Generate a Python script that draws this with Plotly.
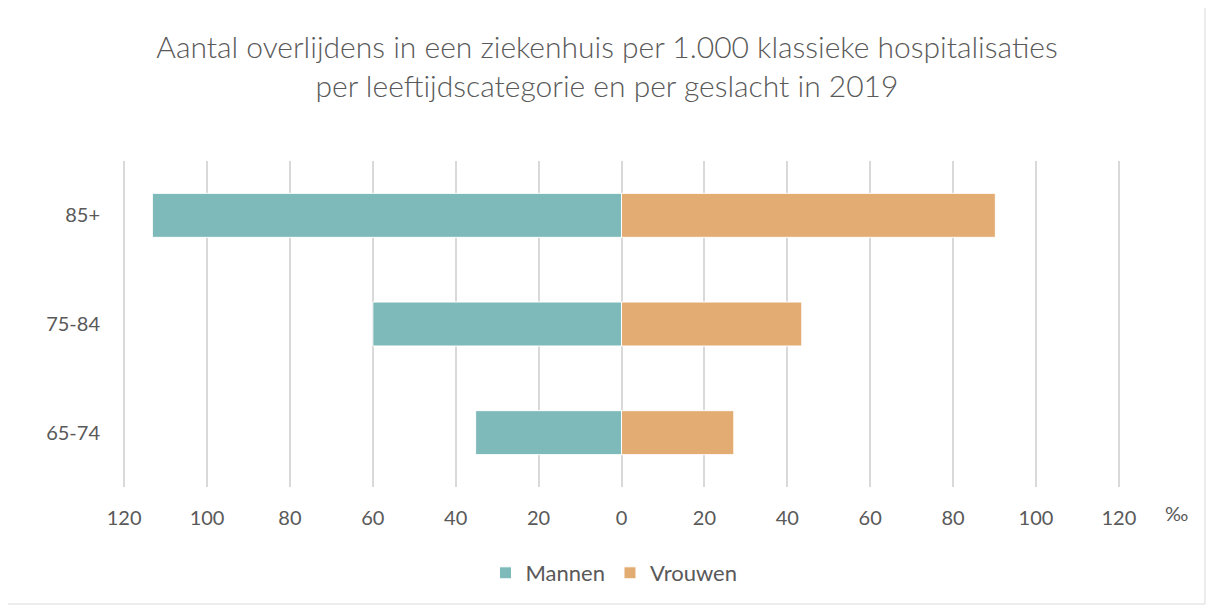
import plotly.graph_objects as go

categories = ["65-74", "75-84", "85+"]
mannen = [35.2, 60.0, 113.2]
vrouwen = [27.1, 43.5, 90.2]
tick_values = [-120, -100, -80, -60, -40, -20, 0, 20, 40, 60, 80, 100, 120]
tick_labels = [str(abs(v)) for v in tick_values]

W, H = 1214, 608
OFF = 8  # page body margin offset
ml, mt = 112, 153
pw, ph = 1003, 326
mr = W - ml - pw
mb = H - mt - ph
FONT = "Lato"
GREY = "#595959"

def px(x):
    return (x - OFF - ml) / pw
def py(y):
    return (H - mb - (y - OFF)) / ph

fig = go.Figure()
fig.add_trace(go.Bar(y=categories, x=[-v for v in mannen], orientation="h", name="Mannen",
                     marker=dict(color="#7FBABA", line=dict(color="white", width=1))))
fig.add_trace(go.Bar(y=categories, x=vrouwen, orientation="h", name="Vrouwen",
                     marker=dict(color="#E3AC73", line=dict(color="white", width=1))))

fig.update_layout(
    width=W, height=H,
    margin=dict(l=ml, r=mr, t=mt, b=mb),
    paper_bgcolor="white", plot_bgcolor="white",
    barmode="relative", bargap=0.595,
    font=dict(family=FONT, color=GREY, size=20),
    title=dict(text="Aantal overlijdens in een ziekenhuis per 1.000 klassieke hospitalisaties<br>per leeftijdscategorie en per geslacht in 2019",
               x=px(607), xref="paper", xanchor="center",
               y=1 - (58 - OFF) / H, yanchor="middle",
               font=dict(family=FONT, size=30, color=GREY, weight=300)),
    xaxis=dict(range=[-121, 121], tickvals=tick_values, ticktext=tick_labels,
               showgrid=True, gridcolor="#D9D9D9", gridwidth=1.5,
               zeroline=True, zerolinecolor="#D9D9D9", zerolinewidth=1.5,
               showline=False, ticks="", ticklabelstandoff=17,
               tickfont=dict(size=20, color=GREY), fixedrange=True),
    yaxis=dict(categoryorder="array", categoryarray=categories, showgrid=False,
               zeroline=False, showline=False, ticks="", ticklabelstandoff=19,
               tickfont=dict(size=20, color=GREY)),
    legend=dict(orientation="h", x=px(614), xanchor="center", y=py(573), yanchor="middle",
                font=dict(size=22, color=GREY), traceorder="normal"),
    showlegend=True,
)

fig.add_annotation(text="‰", x=px(1176), y=py(513), xref="paper", yref="paper",
                   showarrow=False, font=dict(size=20, color=GREY), xanchor="center", yanchor="middle")

fig.add_shape(type="rect", xref="paper", yref="paper",
              x0=px(0.5), x1=px(1205), y0=py(604), y1=py(0.5),
              line=dict(color="#D9D9D9", width=1), fillcolor="rgba(0,0,0,0)")

fig.write_html("out.html")
